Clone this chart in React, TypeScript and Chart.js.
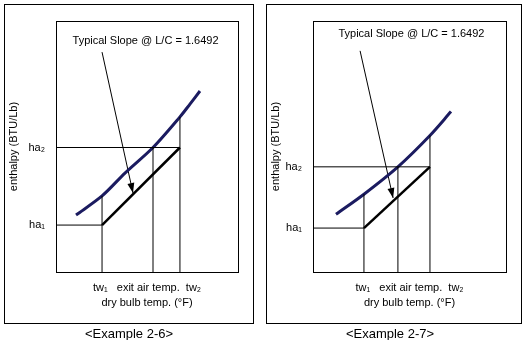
import { useEffect, useRef } from "react";
import { Chart, registerables } from "chart.js";

Chart.register(...registerables);

const FONT = "'Liberation Sans', Arial, sans-serif";

// ---- shared text ----
const xTitleLines = ["tw\u2081   exit air temp.  tw\u2082", "dry bulb temp. (\u00B0F)"];
const yTitle = "enthalpy (BTU/Lb)";
const yTickLabels = ["ha\u2081", "ha\u2082"];
const slopeLabel = "Typical Slope @ L/C = 1.6492";
const exampleLabels = ["<Example 2-6>", "<Example 2-7>"];

// ---- Example 2-6 (relative units, axis 0..100) ----
const ex6SatX = [11, 25.3, 37.9, 53.3, 68.1, 73.6, 79.1];
const ex6SatY = [22.7, 30.3, 39.4, 49.6, 61.8, 66.9, 72.1];
const ex6Tw = [25.3, 68.1]; // tw1, tw2
const ex6ExitAir = 53.3;
const ex6Ha = [18.7, 49.6]; // ha1, ha2
const ex6ArrowX = [25.3, 42.3];
const ex6ArrowY = [87.6, 31.5];
const ex6LabelXY = [49.2, 92.0];

// ---- Example 2-7 ----
const ex7SatX = [11.9, 26.4, 44.0, 60.6, 71.5];
const ex7SatY = [23.0, 31.0, 41.9, 54.4, 63.9];
const ex7Tw = [26.4, 60.6];
const ex7ExitAir = 44.0;
const ex7Ha = [17.5, 41.9];
const ex7ArrowX = [24.4, 41.5];
const ex7ArrowY = [88.1, 29.5];
const ex7LabelXY = [51.0, 94.8];

type Spec = {
  satX: number[];
  satY: number[];
  tw: number[];
  exitAir: number;
  ha: number[];
  arrowX: number[];
  arrowY: number[];
  labelXY: number[];
  example: string;
  // layout (pixels)
  padLeft: number;
  yWidth: number;
  padRight: number;
  outer: [number, number, number, number];
  exampleX: number;
};

const specs: Spec[] = [
  {
    satX: ex6SatX, satY: ex6SatY, tw: ex6Tw, exitAir: ex6ExitAir, ha: ex6Ha,
    arrowX: ex6ArrowX, arrowY: ex6ArrowY, labelXY: ex6LabelXY, example: exampleLabels[0],
    padLeft: 3, yWidth: 53, padRight: 25, outer: [4, 4, 253, 323], exampleX: 129,
  },
  {
    satX: ex7SatX, satY: ex7SatY, tw: ex7Tw, exitAir: ex7ExitAir, ha: ex7Ha,
    arrowX: ex7ArrowX, arrowY: ex7ArrowY, labelXY: ex7LabelXY, example: exampleLabels[1],
    padLeft: 2, yWidth: 48, padRight: 20, outer: [3, 4, 258, 323], exampleX: 127,
  },
];

function satAt(spec: Spec, x: number) {
  const i = spec.satX.indexOf(x);
  return spec.satY[i];
}

function Panel({ spec, left }: { spec: Spec; left: number }) {
  const ref = useRef<HTMLCanvasElement>(null);
  useEffect(() => {
    const canvas = ref.current;
    if (!canvas) return;
    const seg = (xs: number[], ys: number[], color = "#000", width = 1, tension = 0) => ({
      data: xs.map((x, i) => ({ x, y: ys[i] })),
      showLine: true,
      borderColor: color,
      backgroundColor: color,
      borderWidth: width,
      pointRadius: 0,
      pointHoverRadius: 0,
      fill: false,
      tension,
    });
    const [tw1, tw2] = spec.tw;
    const [ha1, ha2] = spec.ha;
    const datasets: any[] = [
      seg([0, tw2], [ha2, ha2]),
      seg([0, tw1], [ha1, ha1]),
      seg([tw1, tw1], [0, satAt(spec, tw1)]),
      seg([spec.exitAir, spec.exitAir], [0, ha2]),
      seg([tw2, tw2], [0, satAt(spec, tw2)]),
      seg([tw1, tw2], [ha1, ha2], "#000", 2.5),
      seg(spec.satX, spec.satY, "#1b1b60", 3, 0.3),
      seg(spec.arrowX, spec.arrowY, "#000", 1),
    ];

    const deco = {
      id: "deco",
      beforeDatasetsDraw(chart: any) {
        const { ctx, chartArea } = chart;
        ctx.save();
        ctx.strokeStyle = "#000";
        ctx.lineWidth = 1;
        ctx.strokeRect(
          Math.round(chartArea.left) + 0.5,
          Math.round(chartArea.top) + 0.5,
          Math.round(chartArea.right - chartArea.left),
          Math.round(chartArea.bottom - chartArea.top)
        );
        ctx.restore();
      },
      afterDatasetsDraw(chart: any) {
        const { ctx, scales } = chart;
        const xs = scales.x, ys = scales.y;
        // arrow head
        const x0 = xs.getPixelForValue(spec.arrowX[0]);
        const y0 = ys.getPixelForValue(spec.arrowY[0]);
        const x1 = xs.getPixelForValue(spec.arrowX[1]);
        const y1 = ys.getPixelForValue(spec.arrowY[1]);
        const ang = Math.atan2(y1 - y0, x1 - x0);
        const len = 10, half = 3.5;
        ctx.save();
        ctx.fillStyle = "#000";
        ctx.beginPath();
        ctx.moveTo(x1, y1);
        ctx.lineTo(x1 - len * Math.cos(ang) + half * Math.sin(ang), y1 - len * Math.sin(ang) - half * Math.cos(ang));
        ctx.lineTo(x1 - len * Math.cos(ang) - half * Math.sin(ang), y1 - len * Math.sin(ang) + half * Math.cos(ang));
        ctx.closePath();
        ctx.fill();
        // slope label
        ctx.font = `11px ${FONT}`;
        ctx.textAlign = "center";
        ctx.textBaseline = "middle";
        ctx.fillText(slopeLabel, xs.getPixelForValue(spec.labelXY[0]), ys.getPixelForValue(spec.labelXY[1]));
        ctx.restore();
      },
      afterDraw(chart: any) {
        const { ctx } = chart;
        const [l, t, r, b] = spec.outer;
        ctx.save();
        ctx.strokeStyle = "#000";
        ctx.lineWidth = 1;
        ctx.strokeRect(l + 0.5, t + 0.5, r - l, b - t);
        ctx.fillStyle = "#000";
        ctx.font = `13px ${FONT}`;
        ctx.textAlign = "center";
        ctx.textBaseline = "middle";
        ctx.fillText(spec.example, spec.exampleX, 334);
        ctx.restore();
      },
    };

    const chart = new Chart(canvas, {
      type: "scatter",
      data: { datasets },
      options: {
        responsive: false,
        animation: false,
        devicePixelRatio: 1,
        layout: { padding: { left: spec.padLeft, top: 21, right: spec.padRight, bottom: 30 } },
        plugins: { legend: { display: false }, tooltip: { enabled: false }, title: { display: false } },
        events: [],
        scales: {
          x: {
            type: "linear",
            min: 0,
            max: 100,
            grid: { display: false },
            border: { display: false },
            ticks: { display: false },
            title: {
              display: true,
              text: xTitleLines,
              color: "#000",
              font: { family: FONT, size: 11, lineHeight: "15px" } as any,
              padding: { top: 0, bottom: 0 },
            },
            afterFit: (s: any) => { s.height = 38; },
          },
          y: {
            type: "linear",
            min: 0,
            max: 100,
            grid: { display: false },
            border: { display: false },
            afterBuildTicks: (s: any) => { s.ticks = spec.ha.map((v) => ({ value: v })); },
            ticks: {
              autoSkip: false,
              color: "#000",
              font: { family: FONT, size: 11 },
              callback: (_v: any, i: number) => yTickLabels[i],
            },
            title: {
              display: true,
              text: yTitle,
              color: "#000",
              font: { family: FONT, size: 11 },
              padding: { top: 4, bottom: 0 },
            },
            afterFit: (s: any) => { s.width = spec.yWidth; },
          },
        },
      },
      plugins: [deco],
    } as any);
    return () => chart.destroy();
  }, [spec]);
  return (
    <canvas
      ref={ref}
      width={263}
      height={340}
      style={{ position: "absolute", left, top: 0, width: 263, height: 340 }}
    />
  );
}

export default function App() {
  return (
    <div style={{ position: "absolute", left: 0, top: 0, width: 526, height: 340, background: "#fff" }}>
      <Panel spec={specs[0]} left={0} />
      <Panel spec={specs[1]} left={263} />
    </div>
  );
}
